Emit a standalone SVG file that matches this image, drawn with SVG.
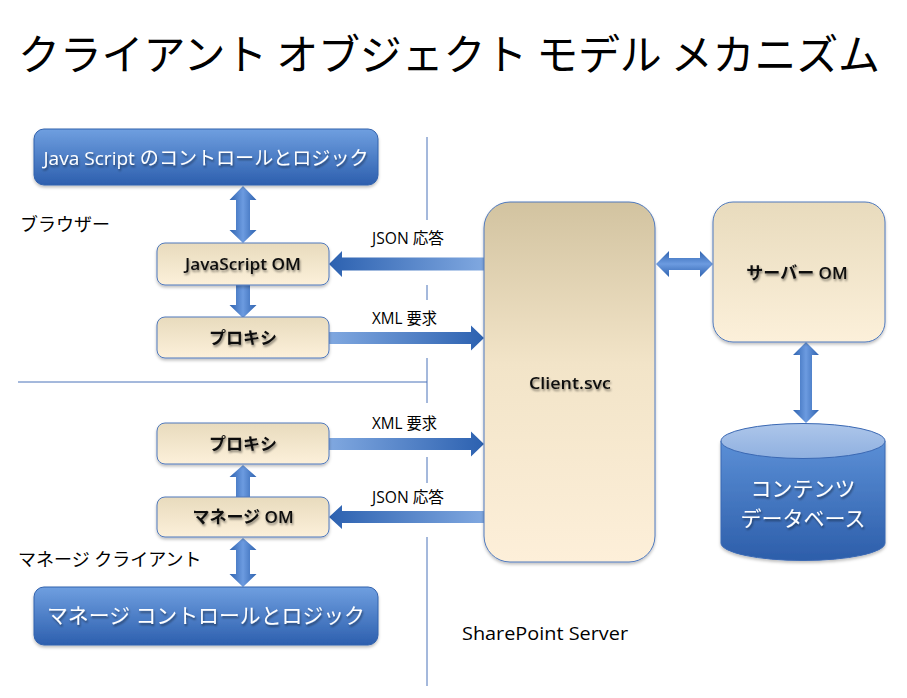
<svg xmlns="http://www.w3.org/2000/svg" width="907" height="698" viewBox="0 0 907 698">
<defs>
<linearGradient id="gBlue" x1="0" y1="0" x2="0" y2="1"><stop offset="0" stop-color="#6f9fe0"/><stop offset="1" stop-color="#2d5fae"/></linearGradient>
<linearGradient id="gCream" x1="0" y1="0" x2="0" y2="1"><stop offset="0" stop-color="#e8dbbd"/><stop offset="1" stop-color="#fcf0da"/></linearGradient>
<linearGradient id="gSvc" x1="0" y1="0" x2="0" y2="1"><stop offset="0" stop-color="#d2c3a0"/><stop offset="0.45" stop-color="#f2e4c8"/><stop offset="1" stop-color="#fdefd9"/></linearGradient>
<linearGradient id="gCyl" x1="0" y1="0" x2="0" y2="1"><stop offset="0" stop-color="#5b8fd6"/><stop offset="1" stop-color="#2d5eaa"/></linearGradient>
<linearGradient id="gCylTop" x1="0" y1="0" x2="0" y2="1"><stop offset="0" stop-color="#adc6ea"/><stop offset="1" stop-color="#8fb0e0"/></linearGradient>
<linearGradient id="gR" x1="0" y1="0" x2="1" y2="0"><stop offset="0" stop-color="#80a8e0"/><stop offset="1" stop-color="#2c61b0"/></linearGradient>
<linearGradient id="gL" x1="1" y1="0" x2="0" y2="0"><stop offset="0" stop-color="#80a8e0"/><stop offset="1" stop-color="#2c61b0"/></linearGradient>
<linearGradient id="gV" x1="0" y1="0" x2="1" y2="0"><stop offset="0" stop-color="#2f63b0"/><stop offset="0.5" stop-color="#6c9be0"/><stop offset="1" stop-color="#2f63b0"/></linearGradient>
<linearGradient id="gH" x1="0" y1="0" x2="0" y2="1"><stop offset="0" stop-color="#2f63b0"/><stop offset="0.5" stop-color="#6c9be0"/><stop offset="1" stop-color="#2f63b0"/></linearGradient>
<filter id="ts" x="-10%" y="-30%" width="120%" height="170%"><feDropShadow dx="1" dy="2" stdDeviation="1" flood-color="#000" flood-opacity="0.45"/></filter>
<filter id="bs" x="-5%" y="-10%" width="110%" height="125%"><feDropShadow dx="0" dy="2" stdDeviation="1.5" flood-color="#000" flood-opacity="0.25"/></filter>
</defs>
<style>
.t{font-family:"Open Sans","Noto Sans CJK JP",sans-serif;fill:#000}
.cj{font-family:"Noto Sans CJK JP",sans-serif}
.blue{fill:url(#gBlue);stroke:#3262ad;stroke-width:1}
.cream{fill:url(#gCream);stroke:#4f79bd;stroke-width:1}
.nt{font-family:"Open Sans","Noto Sans CJK JP",sans-serif;font-weight:600;font-size:17px;fill:#111;text-anchor:middle;filter:url(#ts)}
.wt{font-family:"Open Sans","Noto Sans CJK JP",sans-serif;fill:#fff;text-anchor:middle;filter:url(#ts)}
.lbl{font-family:"Open Sans","Noto Sans CJK JP",sans-serif;font-size:16px;fill:#000}
.ln{stroke:#4a73b9;stroke-width:1;fill:none}
</style>
<rect width="907" height="698" fill="#fff"/>

<text class="cj" x="18" y="70" font-size="42" textLength="862" lengthAdjust="spacing">クライアント オブジェクト モデル メカニズム</text>

<g id="dividers">
<path class="ln" d="M427,137 V220 M427,285 V300 M427,358 V403 M427,457 V483 M427,537 V686 M18,382 H427"/>
</g>

<text class="t" x="20" y="231" font-size="18">ブラウザー</text>
<text class="t" x="18" y="566" font-size="18">マネージ クライアント</text>
<text class="t" x="462" y="640" font-size="19" textLength="166" lengthAdjust="spacingAndGlyphs">SharePoint Server</text>

<g id="connectors">
<path id="a1" fill="url(#gV)" d="M243,186 L256.5,200 L250,200 L250,230 L256.5,230 L243,243 L229.5,230 L236,230 L236,200 L229.5,200 Z"/>
<path id="a2" fill="url(#gV)" d="M236,285 L250,285 L250,305 L256.5,305 L243,318 L229.5,305 L236,305 Z"/>
<path id="a3" fill="url(#gV)" d="M243,465 L256.5,477 L250,477 L250,497 L236,497 L236,477 L229.5,477 Z"/>
<path id="a4" fill="url(#gV)" d="M243,538 L256.5,550 L250,550 L250,574 L256.5,574 L243,587 L229.5,574 L236,574 L236,550 L229.5,550 Z"/>
<path id="json1" fill="url(#gL)" d="M329,264 L342,251 L342,257.5 L484,257.5 L484,270.5 L342,270.5 L342,277 Z"/>
<path id="xml1" fill="url(#gR)" d="M329,332 L471,332 L471,325.5 L484,338 L471,350.5 L471,344 L329,344 Z"/>
<path id="xml2" fill="url(#gR)" d="M329,438 L471,438 L471,431.5 L484,444 L471,456.5 L471,450 L329,450 Z"/>
<path id="json2" fill="url(#gL)" d="M329,517 L342,505 L342,511 L484,511 L484,523 L342,523 L342,529 Z"/>
<path id="a5" fill="url(#gH)" d="M656,264 L669,251 L669,258 L700,258 L700,251 L713,264 L700,277 L700,270 L669,270 L669,277 Z"/>
<path id="a6" fill="url(#gV)" d="M806,342 L819,355 L812,355 L812,410 L819,410 L806,423 L793,410 L800,410 L800,355 L793,355 Z"/>
<text class="lbl" x="372" y="244" textLength="72" lengthAdjust="spacingAndGlyphs">JSON 応答</text>
<text class="lbl" x="372" y="324" textLength="65" lengthAdjust="spacingAndGlyphs">XML 要求</text>
<text class="lbl" x="372" y="429" textLength="65" lengthAdjust="spacingAndGlyphs">XML 要求</text>
<text class="lbl" x="372" y="503" textLength="72" lengthAdjust="spacingAndGlyphs">JSON 応答</text>
</g>

<g id="js-logic">
<rect class="blue" x="34" y="129" width="344" height="56" rx="10" filter="url(#bs)"/>
<text class="wt" x="206" y="165" font-size="19" textLength="325" lengthAdjust="spacingAndGlyphs">Java Script のコントロールとロジック</text>
</g>
<g id="js-om">
<rect class="cream" x="157" y="243" width="172" height="42" rx="8" filter="url(#bs)"/>
<text class="nt" x="243" y="270" textLength="116" lengthAdjust="spacingAndGlyphs">JavaScript OM</text>
</g>
<g id="proxy1">
<rect class="cream" x="157" y="317" width="172" height="41" rx="8" filter="url(#bs)"/>
<text class="nt" x="243" y="344">プロキシ</text>
</g>
<g id="proxy2">
<rect class="cream" x="157" y="423" width="172" height="41" rx="8" filter="url(#bs)"/>
<text class="nt" x="243" y="450">プロキシ</text>
</g>
<g id="managed-om">
<rect class="cream" x="157" y="497" width="172" height="40" rx="8" filter="url(#bs)"/>
<text class="nt" x="243" y="523">マネージ OM</text>
</g>
<g id="managed-logic">
<rect class="blue" x="34" y="587" width="344" height="58" rx="10" filter="url(#bs)"/>
<text class="wt" x="206" y="623" font-size="21" textLength="318" lengthAdjust="spacingAndGlyphs">マネージ コントロールとロジック</text>
</g>
<g id="client-svc">
<rect x="484" y="202" width="171" height="360" rx="26" fill="url(#gSvc)" stroke="#4f79bd" stroke-width="1" filter="url(#bs)"/>
<text class="nt" x="570" y="389" font-size="19" textLength="82" lengthAdjust="spacingAndGlyphs">Client.svc</text>
</g>
<g id="server-om">
<rect x="713" y="202" width="172" height="140" rx="20" fill="url(#gCream)" stroke="#4f79bd" stroke-width="1" filter="url(#bs)"/>
<text class="nt" x="797" y="279" font-size="18">サーバー OM</text>
</g>
<g id="content-db">
<path d="M721,441 L721,543 A82,17.5 0 0 0 885,543 L885,441 Z" fill="url(#gCyl)" stroke="#3a68b3" stroke-width="1" filter="url(#bs)"/>
<ellipse cx="803" cy="441" rx="82" ry="17.5" fill="url(#gCylTop)" stroke="#3a68b3" stroke-width="1"/>
<text class="wt" x="803" y="496" font-size="21">コンテンツ</text>
<text class="wt" x="803" y="526" font-size="21">データベース</text>
</g>
</svg>
